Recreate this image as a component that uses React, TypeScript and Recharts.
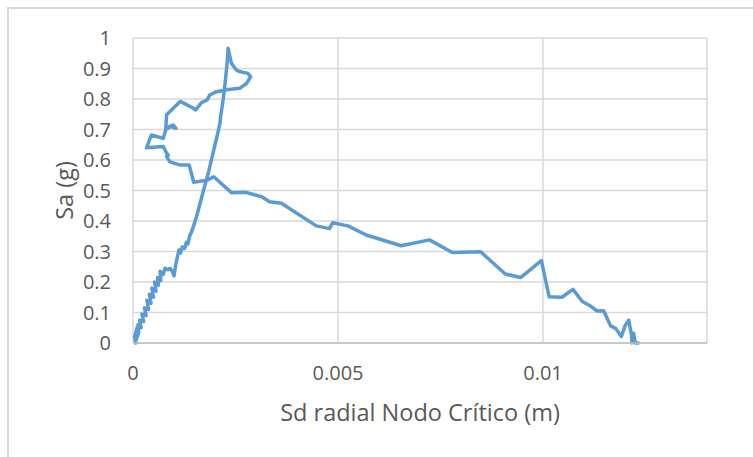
import React from "react";
import { LineChart, Line, XAxis, YAxis, CartesianGrid } from "recharts";

// Sd radial (m) — path order: rising branch, loop at the top, then the falling branch
const sdRadial = [
  0.00003, 0.00007, 0.00004, 0.0001, 0.00008, 0.00014, 0.00012, 0.0002, 0.00016, 0.00026,
  0.00022, 0.00032, 0.00028, 0.00038, 0.00034, 0.00044, 0.0004, 0.0005, 0.00046, 0.00056,
  0.00053, 0.00062, 0.0006, 0.00068, 0.00066, 0.00074, 0.00078, 0.00086, 0.0009, 0.00096,
  0.001, 0.00104, 0.00108, 0.00112, 0.00116, 0.0012, 0.00126, 0.0013, 0.00134, 0.00138,
  0.00143, 0.00148, 0.00155, 0.00162, 0.0017, 0.00177, 0.00185, 0.00193, 0.002, 0.00207,
  0.00212, 0.00214, 0.00218, 0.00222, 0.00226, 0.00229, 0.00231, 0.00232,
  0.0024, 0.00252, 0.0026, 0.0028, 0.00287, 0.00277, 0.0026, 0.00228, 0.00204, 0.00187,
  0.00181, 0.00167, 0.00153, 0.00143, 0.00127, 0.00115, 0.00082, 0.0008, 0.00098, 0.00105,
  0.00092, 0.0008, 0.00074, 0.00045, 0.00033, 0.00074, 0.00082, 0.00086, 0.00082, 0.0009,
  0.00114, 0.00137, 0.00148, 0.00181, 0.00197,
  0.0024, 0.00275, 0.00313, 0.00333, 0.00362, 0.00447, 0.00479, 0.00487, 0.00524, 0.00569,
  0.00654, 0.00723, 0.00779, 0.00848, 0.00908, 0.00946, 0.00996, 0.01015, 0.01046, 0.01073,
  0.01096, 0.01116, 0.01132, 0.01148, 0.01165, 0.01177, 0.01191, 0.012, 0.01209, 0.01216,
  0.01217, 0.01221, 0.01225, 0.01235,
];

// Sa (g)
const saValues = [
  0, 0, 0.02, 0.05, 0.01, 0.035, 0.06, 0.05, 0.075, 0.07,
  0.095, 0.09, 0.115, 0.11, 0.14, 0.13, 0.16, 0.15, 0.18, 0.17,
  0.2, 0.19, 0.215, 0.205, 0.235, 0.225, 0.245, 0.24, 0.245, 0.235,
  0.22, 0.255, 0.28, 0.305, 0.295, 0.315, 0.31, 0.33, 0.325, 0.35,
  0.365, 0.385, 0.415, 0.45, 0.49, 0.525, 0.565, 0.61, 0.65, 0.69,
  0.72, 0.745, 0.78, 0.82, 0.87, 0.91, 0.945, 0.966,
  0.917, 0.895, 0.89, 0.884, 0.873, 0.851, 0.835, 0.83, 0.824, 0.813,
  0.797, 0.788, 0.764, 0.773, 0.784, 0.792, 0.748, 0.704, 0.715, 0.704,
  0.71, 0.7, 0.671, 0.682, 0.64, 0.644, 0.622, 0.616, 0.611, 0.594,
  0.584, 0.584, 0.527, 0.534, 0.545,
  0.493, 0.494, 0.48, 0.463, 0.458, 0.384, 0.375, 0.394, 0.384, 0.354,
  0.319, 0.338, 0.297, 0.299, 0.226, 0.215, 0.27, 0.152, 0.15, 0.176,
  0.136, 0.121, 0.105, 0.106, 0.056, 0.048, 0.021, 0.056, 0.075, 0.026,
  0, 0.032, 0, 0,
];

const xTicks = [0, 0.005, 0.01];
const yTicks = [0, 0.1, 0.2, 0.3, 0.4, 0.5, 0.6, 0.7, 0.8, 0.9, 1];

const data = sdRadial.map((x, i) => ({ x, sa: saValues[i] }));

const FONT = "'Open Sans', sans-serif";
const TEXT = "#595959";

export default function App() {
  return (
    <div
      style={{
        position: "absolute",
        left: 0,
        top: 0,
        width: 753,
        height: 457,
        overflow: "hidden",
        background: "#fff",
        fontFamily: FONT,
      }}
    >
      <div
        style={{
          position: "absolute",
          left: 7,
          top: 7,
          width: 780,
          height: 480,
          border: "2px solid #D9D9D9",
        }}
      />
      <LineChart
        width={753}
        height={457}
        data={data}
        margin={{ top: 38, right: 46, left: 63, bottom: 24 }}
        style={{ position: "absolute", left: 0, top: 0 }}
      >
        <CartesianGrid stroke="#D9D9D9" strokeWidth={1.5} />
        <XAxis
          type="number"
          dataKey="x"
          domain={[0, 0.014]}
          ticks={xTicks}
          allowDataOverflow
          height={90}
          tickLine={false}
          tickSize={0}
          tickMargin={23}
          axisLine={{ stroke: "#BFBFBF", strokeWidth: 1.5 }}
          tick={{ fill: TEXT, fontSize: 20, fontFamily: FONT }}
          tickFormatter={(v) => String(v)}
          label={{
            value: "Sd radial Nodo Crítico (m)",
            position: "insideBottom",
            offset: 12,
            fill: TEXT,
            fontSize: 23.5,
            fontFamily: FONT,
          }}
        />
        <YAxis
          type="number"
          domain={[0, 1]}
          ticks={yTicks}
          width={70}
          tickLine={false}
          tickSize={0}
          tickMargin={22}
          axisLine={false}
          tick={{ fill: TEXT, fontSize: 20, fontFamily: FONT }}
          tickFormatter={(v) => String(v)}
          label={{
            value: "Sa (g)",
            angle: -90,
            position: "insideLeft",
            offset: 2,
            fill: TEXT,
            fontSize: 23.5,
            fontFamily: FONT,
            style: { textAnchor: "middle" },
          }}
        />
        <Line
          type="linear"
          dataKey="sa"
          stroke="#5B9BD5"
          strokeWidth={3.5}
          strokeLinejoin="round"
          dot={false}
          isAnimationActive={false}
        />
      </LineChart>
    </div>
  );
}
